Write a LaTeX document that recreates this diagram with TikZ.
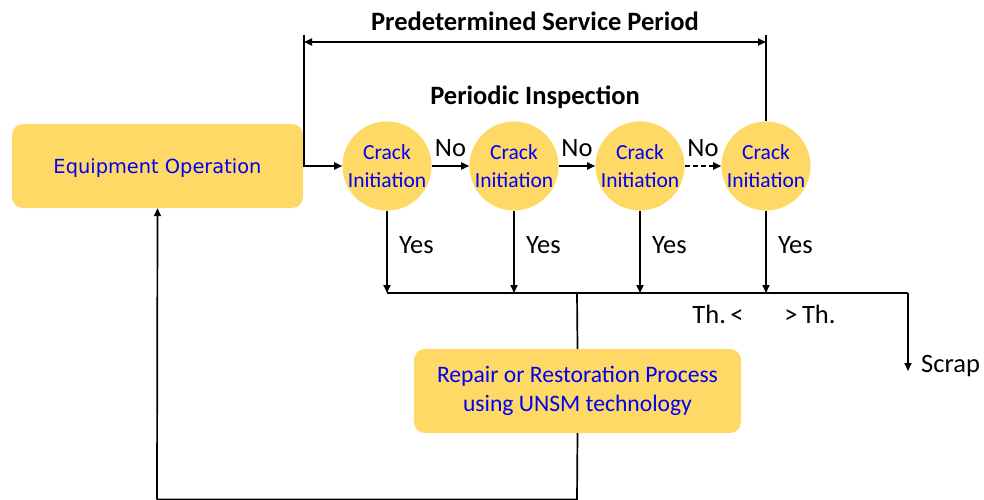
\documentclass[tikz,border=0pt]{standalone}
\usepackage{fontspec}
\setmainfont{Carlito}
\newfontfamily\dejavu{DejaVu Sans}
\usetikzlibrary{arrows.meta}
\definecolor{boxyellow}{RGB}{255,217,102}
\definecolor{txtblue}{RGB}{0,0,240}
\tikzset{
  box/.style={fill=boxyellow, draw=none, rounded corners=11pt, align=center, text=txtblue, inner sep=0pt},
  circ/.style={circle, fill=boxyellow, draw=none, minimum size=83pt, inner sep=0pt, align=center, text=txtblue, font=\fontsize{21.5}{27.5}\selectfont},
  lbl/.style={font=\fontsize{26.5}{30}\selectfont, inner sep=0pt},
  ttl/.style={font=\bfseries\fontsize{26.5}{30}\selectfont, inner sep=0pt},
  ln/.style={line width=1.7pt, line join=miter},
  arr/.style={ln, -{Triangle[length=8pt,width=7pt]}},
  darr/.style={ln, {Triangle[length=8pt,width=7pt]}-{Triangle[length=8pt,width=7pt]}},
}
\begin{document}
\begin{tikzpicture}[x=1pt,y=-1pt]
\useasboundingbox (0,0) rectangle (984,500);
% title texts
\node[ttl] (t1) at (535,21) {Predetermined Service Period};
\node[ttl] (t2) at (535,97) {Periodic Inspection};
% nodes
\node[box, minimum width=291pt, minimum height=84pt, font=\dejavu\fontsize{19.4}{24}\selectfont] (eq) at (157.5,166) {};
\node[text=txtblue, font=\dejavu\fontsize{19.4}{24}\selectfont, inner sep=0pt] (eqt) at (157.5,168) {Equipment Operation};
\node[circ] (c1) at (387,166) {Crack\\Initiation};
\node[circ] (c2) at (514,166) {Crack\\Initiation};
\node[circ] (c3) at (640,166) {Crack\\Initiation};
\node[circ] (c4) at (766,166) {Crack\\Initiation};
\node[box, minimum width=327pt, minimum height=84pt, font=\fontsize{23.6}{29}\selectfont] (rep) at (577.5,391) {Repair or Restoration Process\\using UNSM technology};
% coordinates
\coordinate (tl) at (304,35);
\coordinate (tr) at (766,35);
\coordinate (dl) at (304,42);
\coordinate (dr) at (766,42);
\coordinate (bus) at (387,293);
\coordinate (busr) at (908,293);
\coordinate (scr) at (908,371);
\coordinate (jn) at (577,293);
\coordinate (bot1) at (577,499.5);
\coordinate (bot2) at (157,499.5);
% dimension
\draw[darr] (dl) -- (dr);
\draw[arr] (tl) |- (c1.west);
\draw[ln] (tr) -- (c4.north);
% No arrows
\draw[arr] (c1.east) -- (c2.west) node[lbl, midway, above=8pt] (n1) {No};
\draw[arr] (c2.east) -- (c3.west) node[lbl, midway, above=8pt] (n2) {No};
\draw[arr, dashed, dash pattern=on 5pt off 3pt] (c3.east) -- (c4.west) node[lbl, midway, above=8pt] (n3) {No};
% Yes arrows
\foreach \c in {c1,c2,c3,c4}{
  \draw[arr] (\c.south) -- (\c.south |- bus);
  \node[lbl, anchor=west] at ([xshift=12pt]\c.south |- 0,245) {Yes};
}
% bus
\draw[ln] (bus) -- (busr);
\draw[arr] (busr) -- (scr);
\node[lbl, anchor=west] (scrap) at (921,366) {Scrap};
\node[lbl] (th1) at (718,314) {Th.\,<};
\node[lbl] (th2) at (810,314) {>\,Th.};
% repair loop
\draw[ln] (jn) -- (rep.north);
\draw[ln] (rep.south) -- (bot1) -- (bot2);
\draw[arr] (bot2) -- (eq.south);
\end{tikzpicture}
\end{document}
